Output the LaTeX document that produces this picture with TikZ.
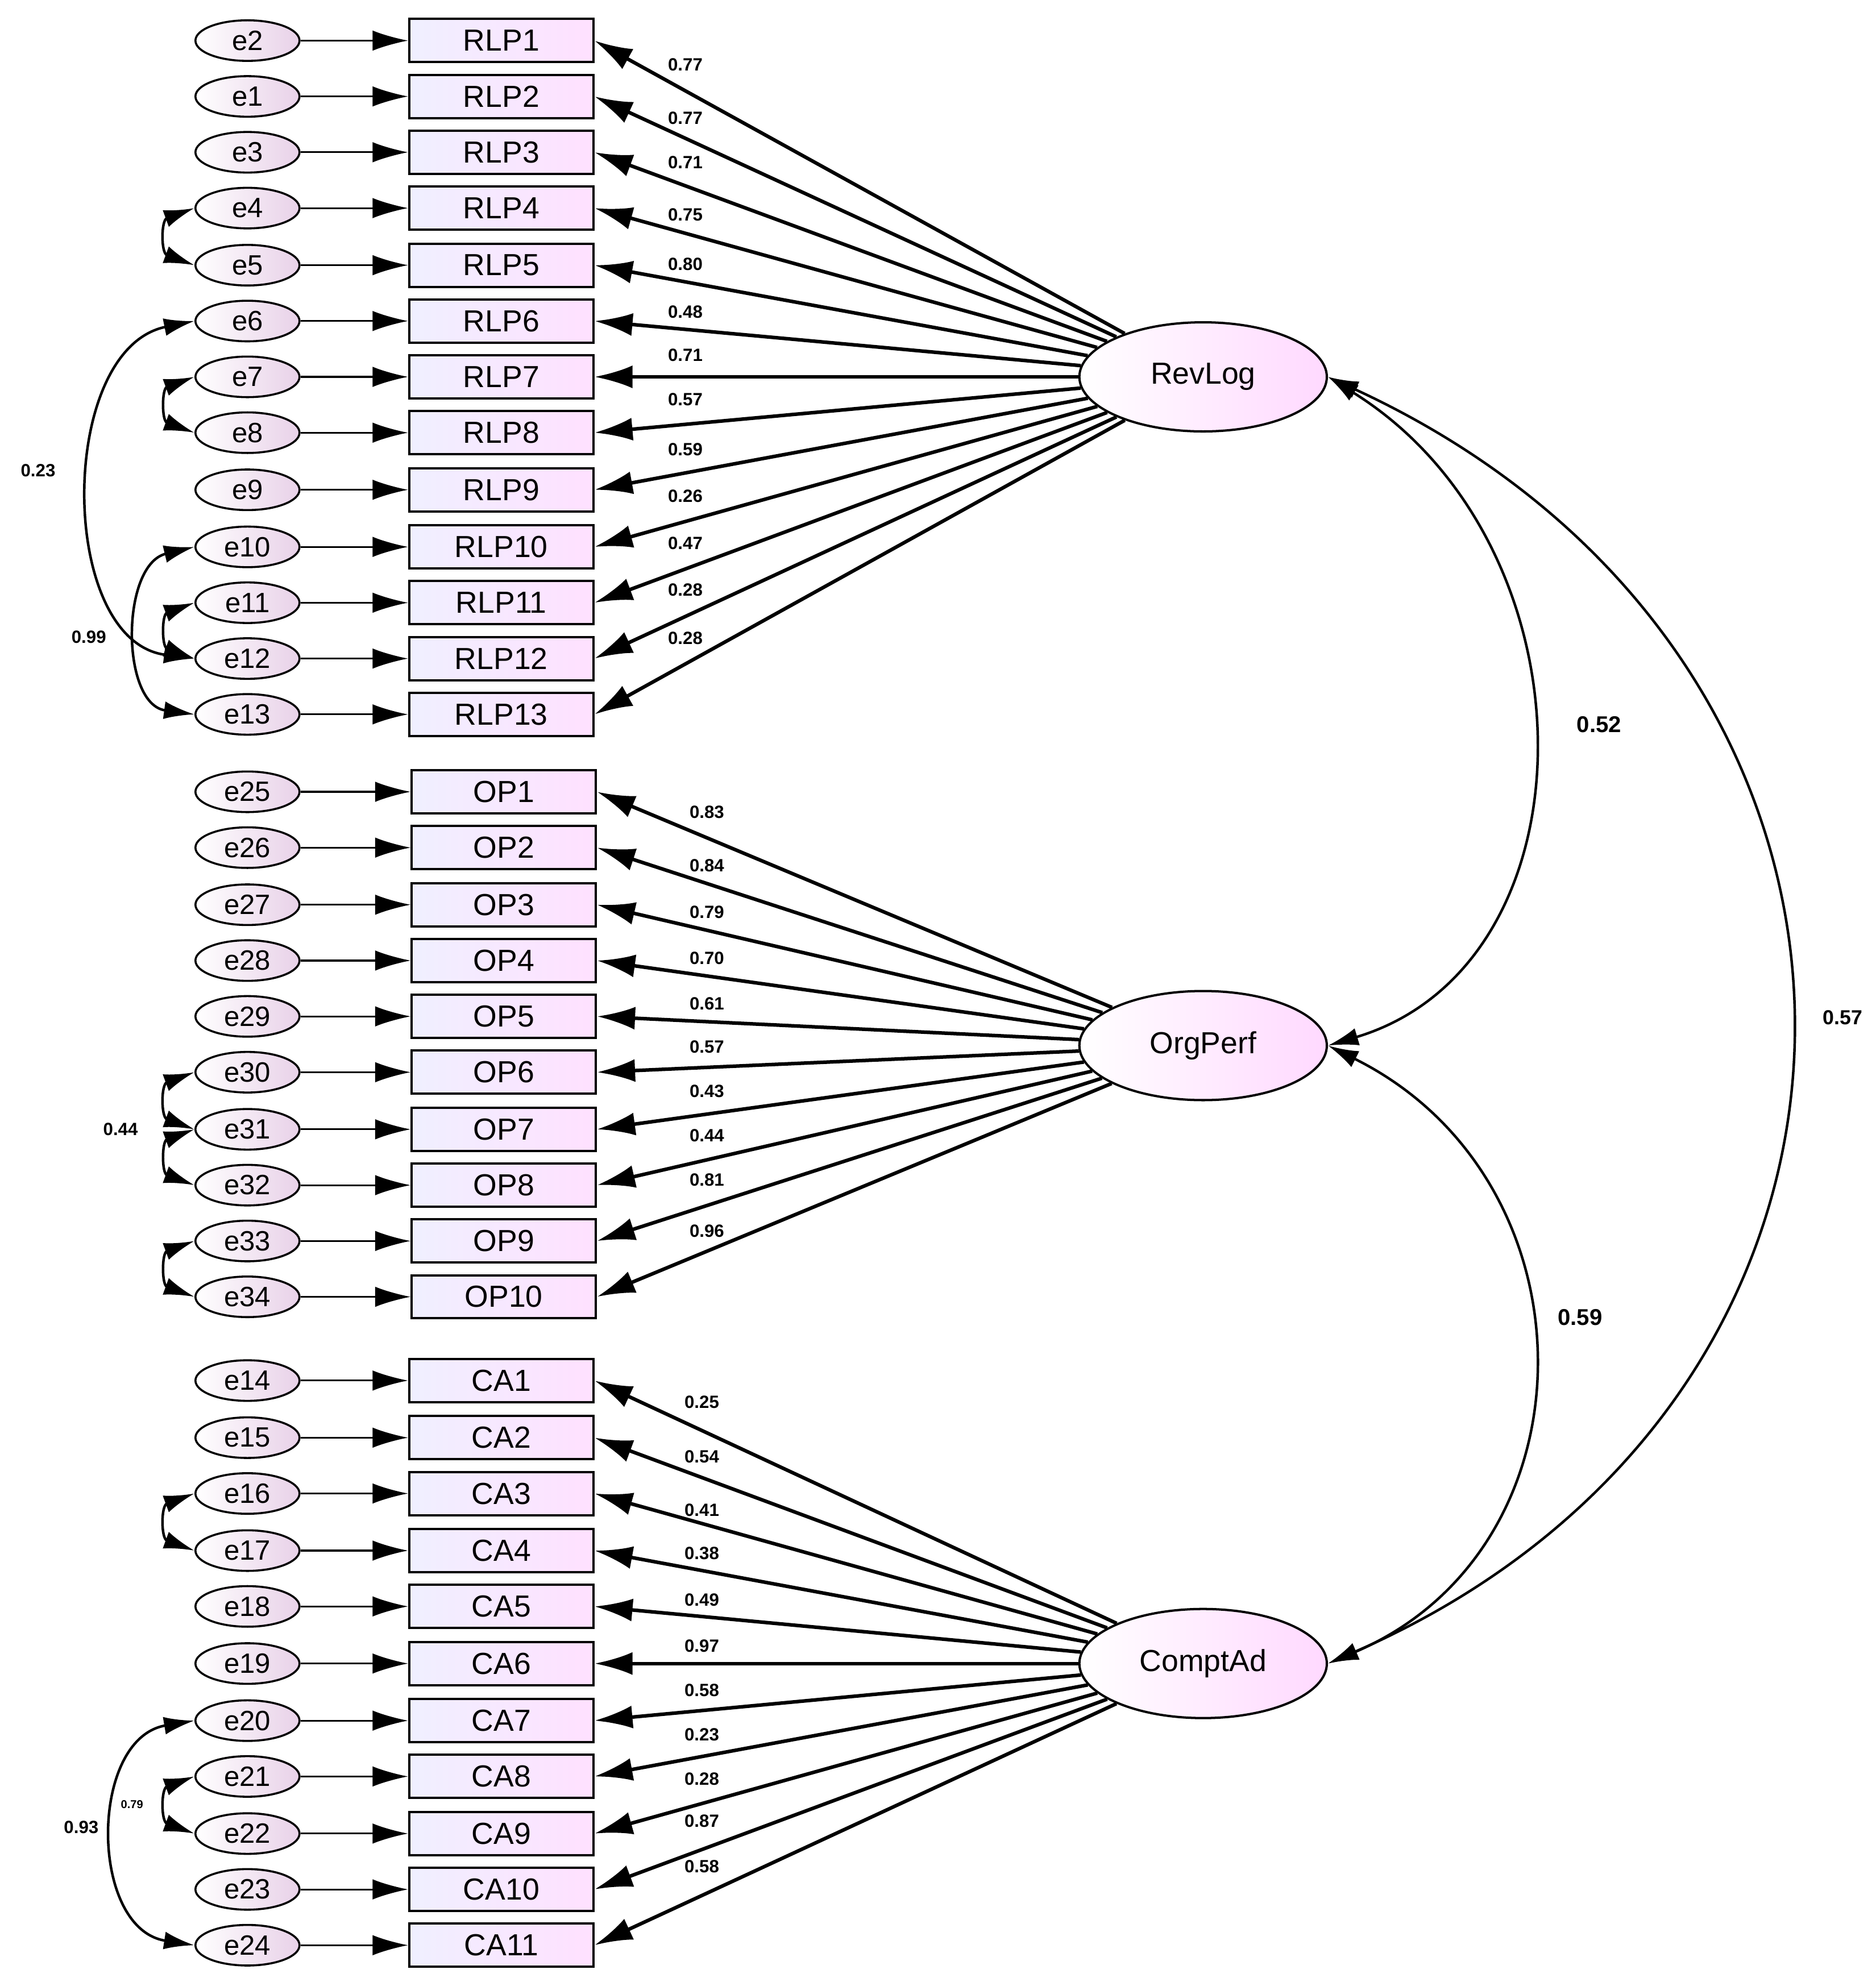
\documentclass[tikz,border=0pt]{standalone}
\usepackage{fontspec}
\setmainfont{Liberation Sans}
\usetikzlibrary{arrows.meta,shapes.geometric}
\begin{document}
\begin{tikzpicture}[x=1pt,y=-1pt,
 err/.style={ellipse,draw,line width=1.6pt,minimum width=82pt,minimum height=32pt,inner sep=0pt,left color=white,right color=violet!18,font=\fontsize{22}{22}\selectfont},
 obs/.style={rectangle,draw,line width=1.8pt,minimum width=145pt,minimum height=34pt,inner sep=0pt,left color=blue!6,right color=magenta!12,font=\fontsize{24}{24}\selectfont},
 lat/.style={ellipse,draw,line width=1.8pt,minimum width=195pt,minimum height=86pt,left color=white,right color=magenta!15,font=\fontsize{24}{24}\selectfont},
 ea/.style={-{Latex[length=28pt,width=16pt]},line width=1.4pt},
 ld/.style={-{Latex[length=30pt,width=18pt]},line width=2.8pt},
 cv/.style={{Latex[length=24pt,width=14pt]}-{Latex[length=24pt,width=14pt]},line width=2pt},
 lab/.style={font=\bfseries\fontsize{14}{14}\selectfont},
 big/.style={font=\bfseries\fontsize{18}{18}\selectfont}]
\useasboundingbox (0,0) rectangle (1478,1562);
\node[lat] (RL) at (948,297) {RevLog};
\node[lat] (OPF) at (948,824) {OrgPerf};
\node[lat] (CAD) at (948,1311) {ComptAd};
% RLP
\foreach \i/\e/\y/\v in {1/2/32/0.77,2/1/76/0.77,3/3/120/0.71,4/4/164/0.75,5/5/209/0.80,6/6/253/0.48,7/7/297/0.71,8/8/341/0.57,9/9/386/0.59,10/10/431/0.26,11/11/475/0.47,12/12/519/0.28,13/13/563/0.28}{
 \node[err] (e\e) at (195,\y) {e\e};
 \node[obs] (RLP\i) at (395,\y) {RLP\i};
 \draw[ea] (e\e) -- (RLP\i);
 \draw[ld] (RL) -- (RLP\i.east);
 \node[lab] at (540,\y+19-44*\i/13+14) {};
}
\foreach \y/\v in {51/0.77,93/0.77,128/0.71,169/0.75,208/0.80,246/0.48,280/0.71,315/0.57,354/0.59,391/0.26,428/0.47,465/0.28,503/0.28}{\node[lab] at (540,\y) {\v};}
% OP
\foreach \i/\e/\y in {1/25/624,2/26/668,3/27/713,4/28/757,5/29/801,6/30/845,7/31/890,8/32/934,9/33/978,10/34/1022}{
 \node[err] (e\e) at (195,\y) {e\e};
 \node[obs] (OP\i) at (397,\y) {OP\i};
 \draw[ea] (e\e) -- (OP\i);
 \draw[ld] (OPF) -- (OP\i.east);
}
\foreach \y/\v in {640/0.83,682/0.84,719/0.79,755/0.70,791/0.61,825/0.57,860/0.43,895/0.44,930/0.81,970/0.96}{\node[lab] at (557,\y) {\v};}
% CA
\foreach \i/\e/\y in {1/14/1088,2/15/1133,3/16/1177,4/17/1222,5/18/1266,6/19/1311,7/20/1356,8/21/1400,9/22/1445,10/23/1489,11/24/1533}{
 \node[err] (e\e) at (195,\y) {e\e};
 \node[obs] (CA\i) at (395,\y) {CA\i};
 \draw[ea] (e\e) -- (CA\i);
 \draw[ld] (CAD) -- (CA\i.east);
}
\foreach \y/\v in {1105/0.25,1148/0.54,1190/0.41,1224/0.38,1261/0.49,1297/0.97,1332/0.58,1367/0.23,1402/0.28,1435/0.87,1471/0.58}{\node[lab] at (553,\y) {\v};}
% error covariances
\foreach \a/\b in {4/5,7/8,11/12,30/31,31/32,33/34,16/17,21/22}{
 \draw[cv] (e\a.west) to[out=200,in=160,looseness=1.6] (e\b.west);}
\draw[cv] (e6.west) .. controls (45,275) and (45,505) .. (e12.west);
\draw[cv] (e10.west) .. controls (95,445) and (95,555) .. (e13.west);
\draw[cv] (e20.west) .. controls (70,1370) and (70,1520) .. (e24.west);
\node[lab] at (30,371) {0.23};
\node[lab] at (70,502) {0.99};
\node[lab] at (95,890) {0.44};
\node[lab] at (64,1440) {0.93};
\node[font=\bfseries\fontsize{9}{9}\selectfont] at (104,1422) {0.79};
% latent covariances
\draw[cv] (RL.east) .. controls (1260,430) and (1260,760) .. (OPF.east);
\draw[cv] (OPF.east) .. controls (1260,930) and (1260,1220) .. (CAD.east);
\draw[cv] (RL.east) .. controls (1530,520) and (1530,1100) .. (CAD.east);
\node[big] at (1260,571) {0.52};
\node[big] at (1245,1038) {0.59};
\node[lab,font=\bfseries\fontsize{16}{16}\selectfont] at (1452,802) {0.57};
\end{tikzpicture}
\end{document}
